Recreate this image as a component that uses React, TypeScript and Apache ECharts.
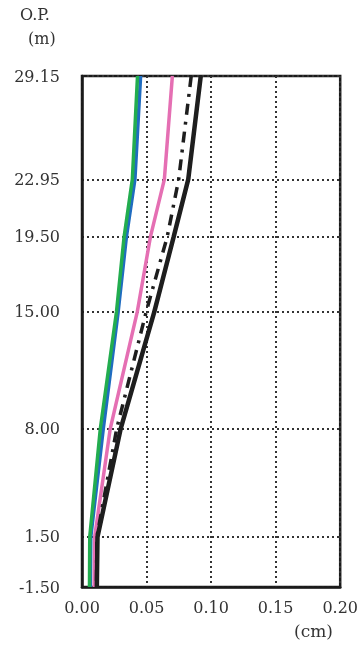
import React, { useEffect, useRef } from "react";
import * as echarts from "echarts";

const depths = [29.15, 22.95, 19.5, 15.0, 8.0, 1.5, -1.5];
const yTicks = [-1.5, 1.5, 8.0, 15.0, 19.5, 22.95, 29.15];
const blueVals = [0.0454, 0.041, 0.0344, 0.028, 0.0165, 0.0068, 0.0065];
const greenVals = [0.043, 0.039, 0.0326, 0.0267, 0.0142, 0.006, 0.0058];
const pinkVals = [0.07, 0.0638, 0.053, 0.0428, 0.0219, 0.0098, 0.0095];
const dashDotVals = [0.0846, 0.0749, 0.066, 0.0497, 0.0269, 0.0115, 0.0112];
const solidVals = [0.092, 0.0823, 0.071, 0.056, 0.03, 0.012, 0.0115];

const FONT = "DejaVu Serif";

function pairs(vals: number[]) {
  return vals.map((v, i) => [v, depths[i]]);
}

export default function App() {
  const ref = useRef<HTMLDivElement>(null);
  useEffect(() => {
    if (!ref.current) return;
    const chart = echarts.init(ref.current, undefined, { renderer: "svg" });
    const mk = (name: string, vals: number[], color: string, width: number, type: any) => ({
      name,
      type: "line",
      data: pairs(vals),
      symbol: "none",
      lineStyle: { color, width, type, cap: "butt" },
      z: 3,
    });
    chart.setOption({
      animation: false,
      grid: {
        left: 82,
        right: 19,
        top: 76,
        bottom: 63,
        show: true,
        borderColor: "#1a1a1a",
        borderWidth: 2.5,
        backgroundColor: "transparent",
      },
      xAxis: {
        type: "value",
        min: 0,
        max: 0.2,
        interval: 0.05,
        axisLine: { show: true, onZero: false, lineStyle: { color: "#1a1a1a", width: 2.5 } },
        axisTick: { show: false },
        axisLabel: {
          color: "#333",
          fontFamily: FONT,
          fontSize: 16,
          margin: 12,
          formatter: (v: number) => v.toFixed(2),
        },
        splitLine: { show: true, lineStyle: { color: "#333", width: 2, type: [2, 3] } },
      },
      yAxis: {
        type: "value",
        min: -1.5,
        max: 29.15,
        axisLine: { show: true, onZero: false, lineStyle: { color: "#1a1a1a", width: 2.5 } },
        axisTick: { show: false, customValues: yTicks },
        axisLabel: {
          color: "#333",
          fontFamily: FONT,
          fontSize: 16,
          margin: 22,
          customValues: yTicks,
          formatter: (v: number) => v.toFixed(2),
        },
        splitLine: { show: true, lineStyle: { color: "#333", width: 2, type: [2, 3] } },
      },
      graphic: [
        { type: "text", left: 20, top: 6, style: { text: "O.P.", font: `16px "${FONT}"`, fill: "#333" } },
        { type: "text", left: 28, top: 30, style: { text: "(m)", font: `16px "${FONT}"`, fill: "#333" } },
        { type: "text", left: 294, top: 622, style: { text: "(cm)", font: `17px "${FONT}"`, fill: "#333" } },
      ],
      series: [
        mk("blue", blueVals, "#1f6cc0", 3.5, "solid"),
        mk("green", greenVals, "#22ad4f", 3.5, "solid"),
        mk("pink", pinkVals, "#e56fb3", 3.5, "solid"),
        mk("dashdot", dashDotVals, "#1e1e1e", 3.5, [11, 7, 3, 7]),
        mk("solid", solidVals, "#1e1e1e", 4.5, "solid"),
      ],
    });
    return () => chart.dispose();
  }, []);
  return <div ref={ref} style={{ position: "fixed", left: 0, top: 0, width: 361, height: 650 }} />;
}
